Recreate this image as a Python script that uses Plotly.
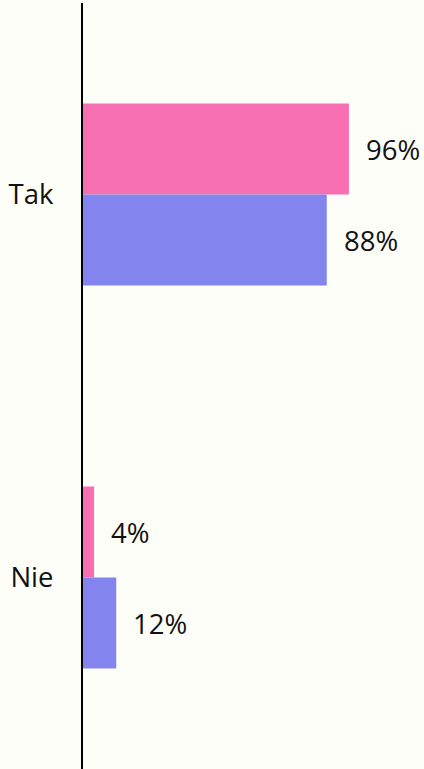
import plotly.graph_objects as go

categories = ["Tak", "Nie"]
series_pink = [96, 4]
series_blue = [88, 12]
labels_pink = ["96%", "4%"]
labels_blue = ["88%", "12%"]

PINK = "#F66FB0"
BLUE = "#8384EE"
BG = "#FEFEF8"
FONT = dict(family="Open Sans", size=27.5, color="#111111")

fig = go.Figure()
fig.add_trace(go.Bar(y=categories, x=series_pink, orientation="h",
                     marker=dict(color=PINK, line=dict(width=0)), name="a"))
fig.add_trace(go.Bar(y=categories, x=series_blue, orientation="h",
                     marker=dict(color=BLUE, line=dict(width=0)), name="b"))

annotations = []
for cat, v, t in zip(categories, series_pink, labels_pink):
    annotations.append(dict(x=v, y=cat, text=t, xanchor="left", yanchor="middle",
                            xshift=15, yshift=45, showarrow=False, font=FONT))
for cat, v, t in zip(categories, series_blue, labels_blue):
    annotations.append(dict(x=v, y=cat, text=t, xanchor="left", yanchor="middle",
                            xshift=15, yshift=-46, showarrow=False, font=FONT))

fig.update_layout(
    width=424, height=769,
    margin=dict(l=83, r=0, t=3, b=0),
    paper_bgcolor=BG, plot_bgcolor=BG,
    barmode="group", bargap=0.525, bargroupgap=0,
    showlegend=False,
    annotations=annotations,
    font=FONT,
)
fig.update_xaxes(range=[0, 341 / 2.77], visible=False, showgrid=False, zeroline=False)
fig.update_yaxes(range=[1.5, -0.5], showline=True, linecolor="black", linewidth=2,
                 showgrid=False, zeroline=False, ticks="", ticklabelstandoff=22,
                 tickfont=FONT)

fig.write_html(
    "out.html",
    config={"displayModeBar": False},
    post_script="document.body.style.margin='0';document.body.style.background='%s';" % BG,
)
